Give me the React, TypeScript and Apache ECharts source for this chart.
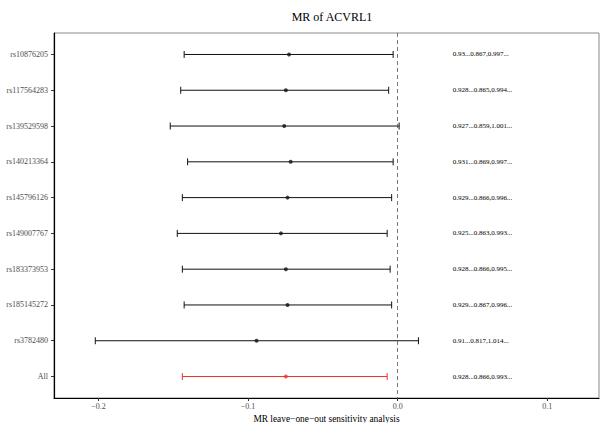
import React, { useEffect, useRef } from "react";
import * as echarts from "echarts";

const snps = [
  "rs10876205",
  "rs117564283",
  "rs139529598",
  "rs140213364",
  "rs145796126",
  "rs149007767",
  "rs183373953",
  "rs185145272",
  "rs3782480",
  "All",
];
const beta = [-0.0726, -0.0747, -0.0758, -0.0715, -0.0736, -0.078, -0.0747, -0.0736, -0.0943, -0.0747];
const lower = [-0.1427, -0.145, -0.152, -0.1404, -0.1439, -0.1473, -0.1439, -0.1427, -0.2021, -0.1439];
const upper = [-0.003, -0.006, 0.001, -0.003, -0.004, -0.007, -0.005, -0.004, 0.0139, -0.007];
const orLabels = [
  "0.93...0.867,0.997...",
  "0.928...0.865,0.994...",
  "0.927...0.859,1.001...",
  "0.931...0.869,0.997...",
  "0.929...0.866,0.996...",
  "0.925...0.863,0.993...",
  "0.928...0.866,0.995...",
  "0.929...0.867,0.996...",
  "0.91...0.817,1.014...",
  "0.928...0.866,0.993...",
];
const xTicks = [-0.2, -0.1, 0, 0.1];

const FONT = "'Liberation Serif', 'Times New Roman', serif";
const RED = "#F2302F";
const BLACK = "#111111";
const TEXT_X = 0.0368;

export default function App() {
  const ref = useRef<HTMLDivElement>(null);
  useEffect(() => {
    document.body.style.margin = "0";
    const chart = echarts.init(ref.current!, null, { renderer: "svg" });
    const idx = snps.map((_, i) => i);
    const colorOf = (i: number) => (snps[i] === "All" ? RED : BLACK);
    chart.setOption({
      animation: false,
      title: {
        text: "MR of ACVRL1",
        left: 327,
        top: 6,
        textAlign: "center",
        textStyle: { fontFamily: FONT, fontSize: 12, fontWeight: "normal", color: "#000" },
      },
      grid: {
        left: 54,
        right: 1,
        top: 33,
        bottom: 25,
        outerBoundsMode: "none",
        containLabel: false,
        show: true,
        borderColor: "#8a8a8a",
        borderWidth: 1,
        backgroundColor: "transparent",
      },
      xAxis: {
        type: "value",
        min: -0.2297,
        max: 0.1346,
        name: "MR leave\u2212one\u2212out sensitivity analysis",
        nameLocation: "middle",
        nameGap: 12,
        nameTextStyle: { fontFamily: FONT, fontSize: 9.4, color: "#000" },
        axisLine: { show: true, onZero: false, lineStyle: { color: "#000", width: 1.2 } },
        axisTick: { show: true, length: 3, customValues: xTicks, lineStyle: { color: "#333" } },
        axisLabel: {
          customValues: xTicks,
          margin: 4,
          fontFamily: FONT,
          fontSize: 8,
          color: "#4d4d4d",
          formatter: (v: number) =>
            v === 0 ? "0.0" : v < 0 ? "\u2212" + Math.abs(v).toFixed(1) : v.toFixed(1),
        },
        splitLine: { show: false },
      },
      yAxis: {
        type: "value",
        min: -0.6,
        max: 9.6,
        inverse: true,
        axisLine: { show: true, onZero: false, lineStyle: { color: "#000", width: 1.2 } },
        axisTick: { show: true, length: 3, customValues: idx, lineStyle: { color: "#333" } },
        axisLabel: {
          customValues: idx,
          margin: 6,
          fontFamily: FONT,
          fontSize: 8,
          color: "#4d4d4d",
          formatter: (v: number) => snps[Math.round(v)] ?? "",
        },
        splitLine: { show: false },
      },
      series: [
        {
          type: "custom",
          name: "ci",
          data: snps.map((_, i) => [lower[i], upper[i], i]),
          encode: { x: [0, 1], y: 2 },
          renderItem: (params: any, api: any) => {
            const i = api.value(2);
            const a = api.coord([api.value(0), i]);
            const b = api.coord([api.value(1), i]);
            const c = colorOf(i);
            const style = { stroke: c, lineWidth: 1 };
            const cap = 3.5;
            return {
              type: "group",
              children: [
                { type: "line", shape: { x1: a[0], y1: a[1], x2: b[0], y2: b[1] }, style },
                { type: "line", shape: { x1: a[0], y1: a[1] - cap, x2: a[0], y2: a[1] + cap }, style },
                { type: "line", shape: { x1: b[0], y1: b[1] - cap, x2: b[0], y2: b[1] + cap }, style },
              ],
            };
          },
          z: 2,
        },
        {
          type: "scatter",
          name: "beta",
          symbol: "circle",
          symbolSize: 4,
          data: snps.map((_, i) => ({ value: [beta[i], i], itemStyle: { color: colorOf(i) } })),
          z: 3,
          markLine: {
            silent: true,
            symbol: "none",
            label: { show: false },
            lineStyle: { type: [4, 3], color: "#555", width: 0.8 },
            data: [{ xAxis: 0 }],
          },
        },
        {
          type: "custom",
          name: "or",
          data: snps.map((_, i) => [TEXT_X, i]),
          encode: { x: 0, y: 1 },
          renderItem: (params: any, api: any) => {
            const i = api.value(1);
            const p = api.coord([api.value(0), i]);
            return {
              type: "text",
              x: p[0],
              y: p[1],
              style: {
                text: orLabels[i],
                fontFamily: FONT,
                fontSize: 7,
                fill: "#000",
                align: "left",
                verticalAlign: "middle",
              },
            };
          },
          z: 4,
        },
      ],
    });
    return () => chart.dispose();
  }, []);
  return <div ref={ref} style={{ width: 600, height: 423 }} />;
}
